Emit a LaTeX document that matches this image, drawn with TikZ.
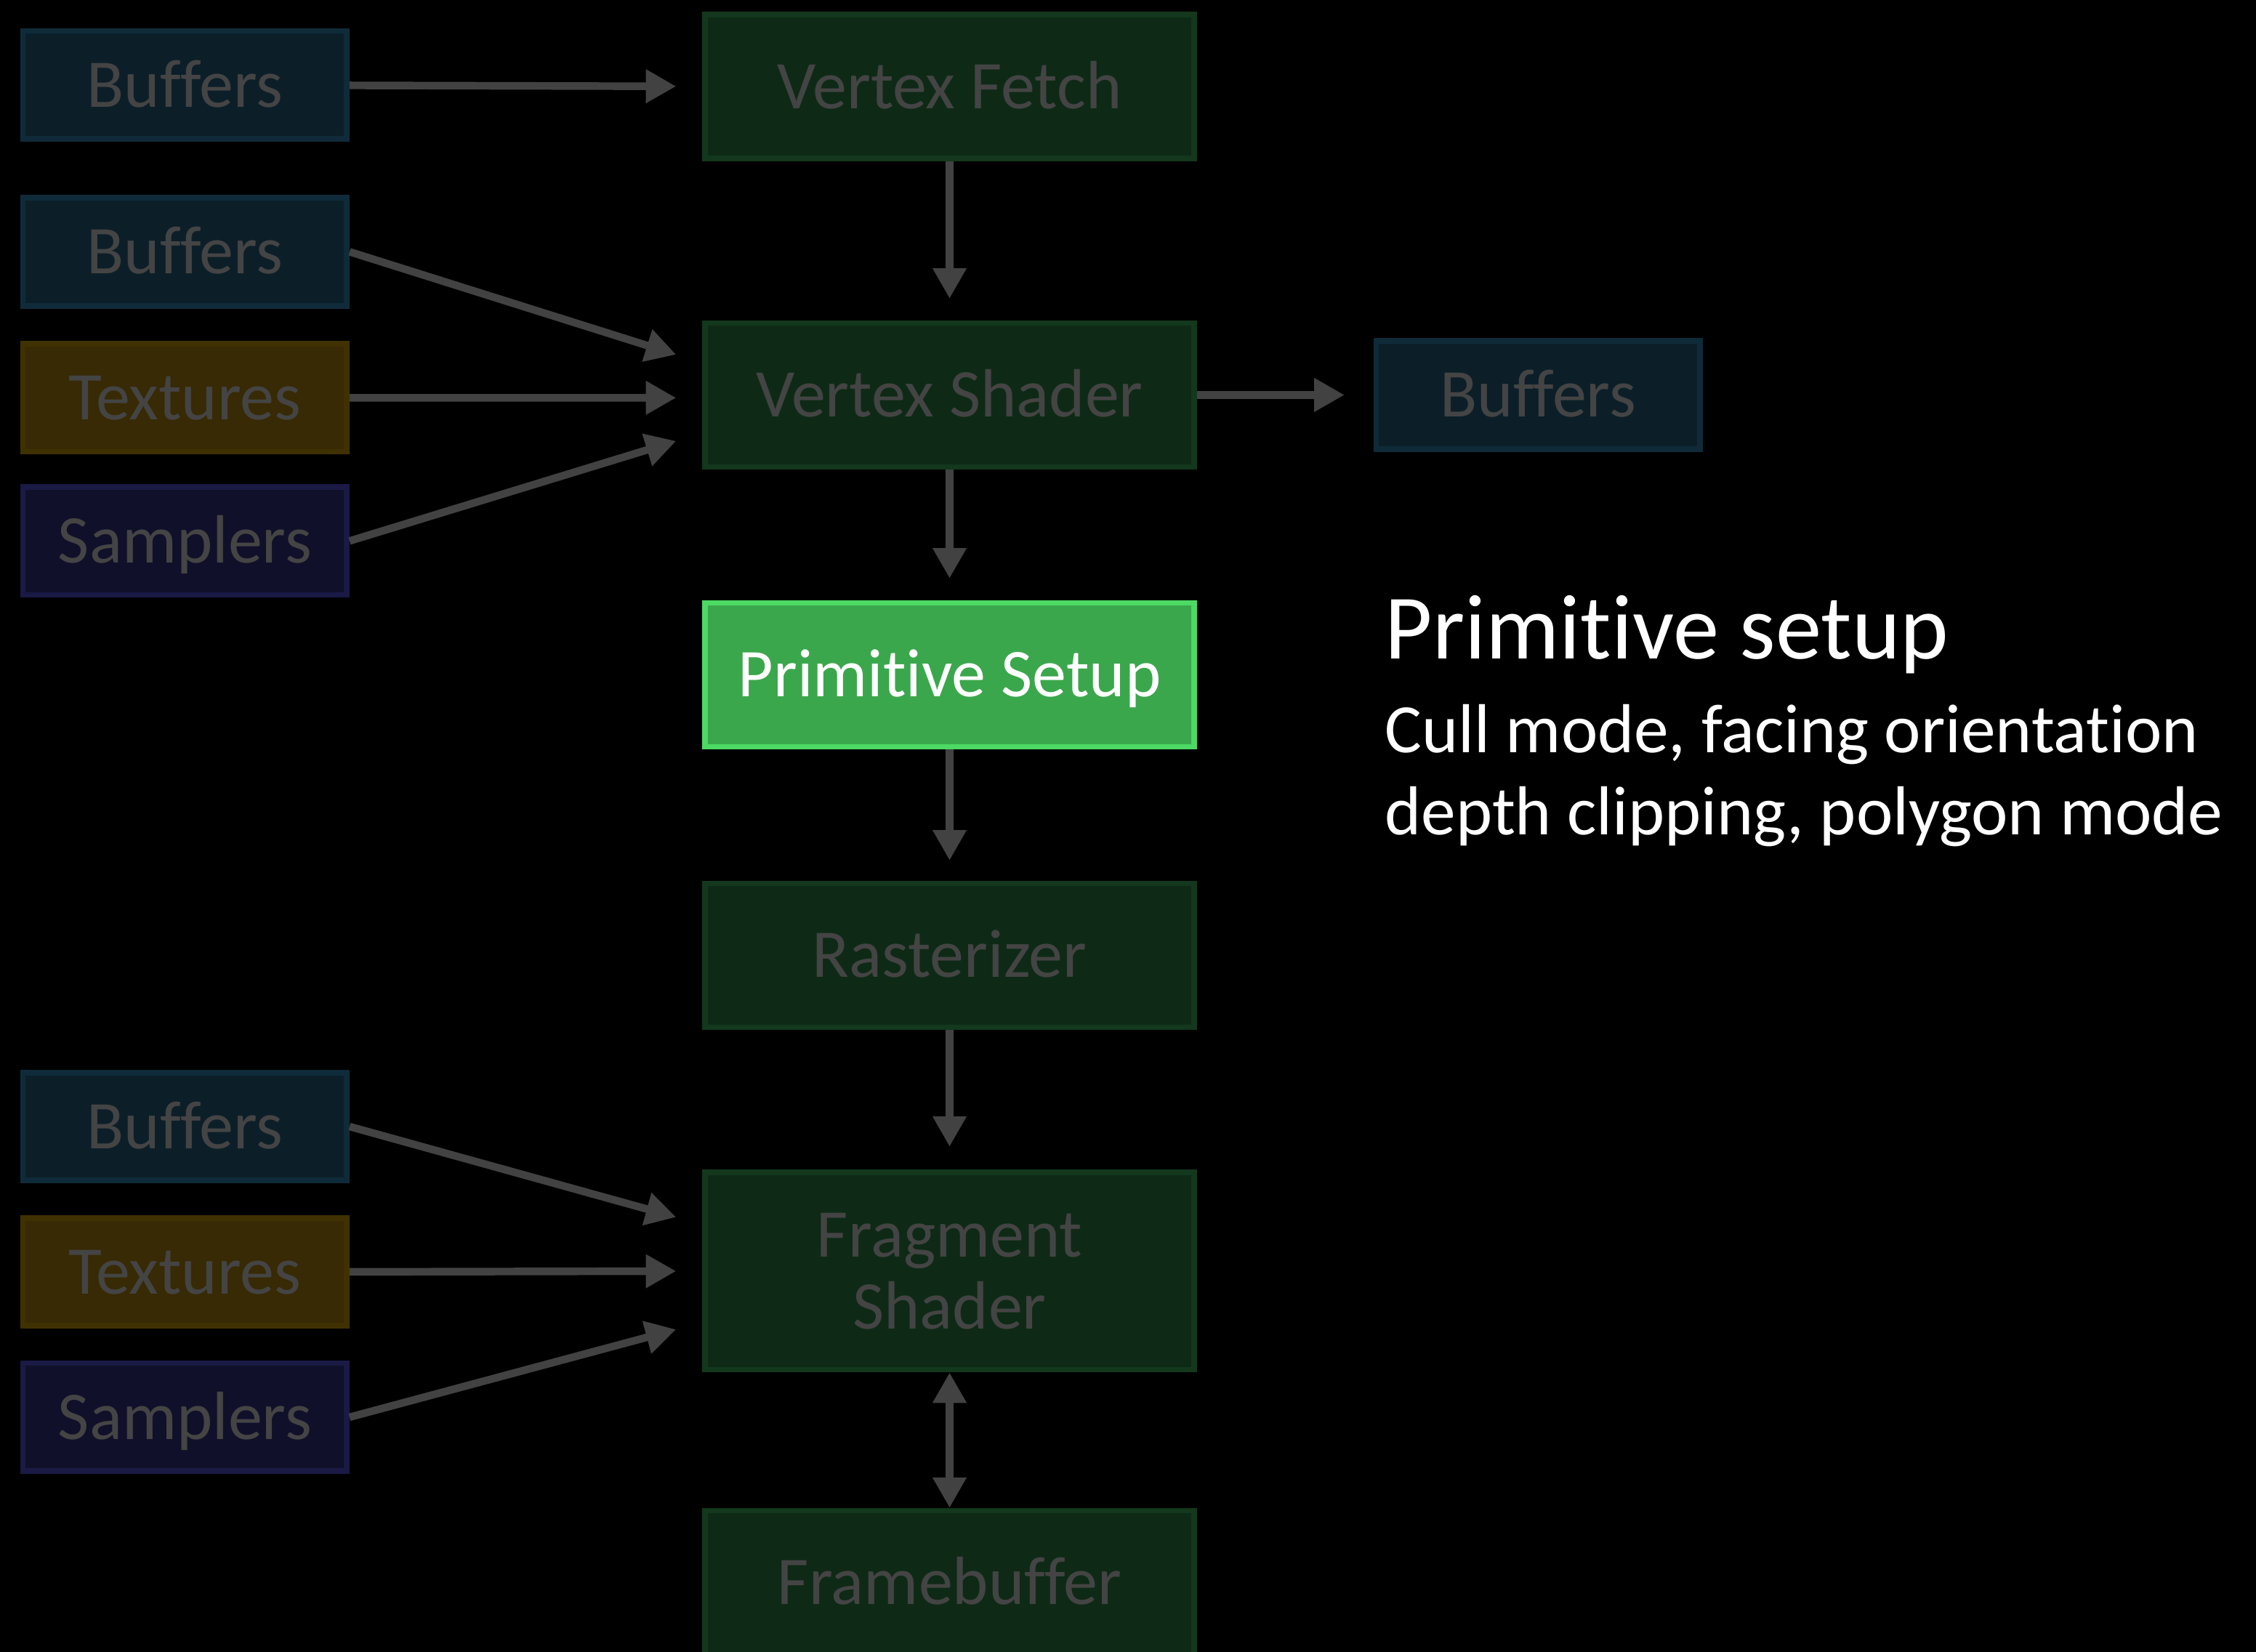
\documentclass[tikz,border=0pt]{standalone}
\usepackage{fontspec}
\setmainfont{Carlito}[Ligatures={NoCommon}]
\usepackage{tikz}
\usetikzlibrary{arrows.meta,positioning}

\definecolor{bufFill}{HTML}{0C1F29}
\definecolor{bufLine}{HTML}{0F2B39}
\definecolor{texFill}{HTML}{372A04}
\definecolor{texLine}{HTML}{3F3200}
\definecolor{smpFill}{HTML}{10102A}
\definecolor{smpLine}{HTML}{1A1A45}
\definecolor{stgFill}{HTML}{0E2A16}
\definecolor{stgLine}{HTML}{13381D}
\definecolor{actFill}{HTML}{3BA74C}
\definecolor{actLine}{HTML}{4CD964}
\definecolor{dimText}{HTML}{444444}
\definecolor{arrGray}{HTML}{424242}

\tikzset{
  res/.style={draw, line width=1.1pt, minimum width=2.25cm, minimum height=0.75cm,
    inner sep=0pt, text=dimText, text height=8.7pt, text depth=0pt,
    font=\fontsize{13.5}{15}\selectfont},
  bufbox/.style={res, fill=bufFill, draw=bufLine},
  texbox/.style={res, fill=texFill, draw=texLine},
  smpbox/.style={res, fill=smpFill, draw=smpLine},
  stage/.style={draw=stgLine, fill=stgFill, line width=1.1pt, minimum width=3.40cm,
    minimum height=1.00cm, inner sep=0pt, align=center, text=dimText,
    font=\fontsize{13.5}{14.2}\selectfont},
  active/.style={stage, fill=actFill, draw=actLine, text=white},
  flow/.style={draw=arrGray, line width=1.5pt, -{Triangle[length=6pt,width=6.3pt]}},
  flowboth/.style={draw=arrGray, line width=1.5pt,
    {Triangle[length=6pt,width=6.3pt]}-{Triangle[length=6pt,width=6.3pt]}},
}

\begin{document}
\begin{tikzpicture}[x=0.01cm,y=-0.01cm]
\fill[black] (0,0) rectangle (1568,1148);
\clip (0,0) rectangle (1568,1148);

% pipeline stages
\node[stage,text height=8.7pt,text depth=0pt] (vfetch) at (660,60) {Vertex Fetch};
\node[stage,text height=8.7pt,text depth=0pt] (vshader) at (660,274.5) {Vertex Shader};
\node[active,text height=8.7pt,text depth=0pt] (prim) at (660,469) {Primitive Setup};
\node[stage,text height=8.7pt,text depth=0pt] (raster) at (660,664) {Rasterizer};
\node[stage,minimum height=1.37cm] (frag) at (660,883.5) {Fragment\\Shader};
\node[stage,text height=8.7pt,text depth=0pt] (fbuf) at (660,1100) {Framebuffer};

% resources
\node[bufbox] (buf1) at (128.5,59) {Buffers};
\node[bufbox] (buf2) at (128.5,175) {Buffers};
\node[texbox] (tex1) at (128.5,276.5) {Textures};
\node[smpbox] (smp1) at (128.5,376) {Samplers};
\node[bufbox] (buf3) at (128.5,783) {Buffers};
\node[texbox] (tex2) at (128.5,884) {Textures};
\node[smpbox] (smp2) at (128.5,985) {Samplers};
\node[bufbox] (bufout) at (1069,274.5) {Buffers};

% connectors
\draw[flow] (buf1) -- ([xshift=-0.18cm]vfetch.west);
\draw[flow] (vfetch) -- ([yshift=0.15cm]vshader.north);
\draw[flow] (buf2.east) -- ([xshift=-0.18cm,yshift=0.28cm]vshader.west);
\draw[flow] (tex1.east) -- ([xshift=-0.18cm,yshift=-0.02cm]vshader.west);
\draw[flow] (smp1.east) -- ([xshift=-0.18cm,yshift=-0.32cm]vshader.west);
\draw[flow] (vshader.east) -- ([xshift=-0.2cm]bufout.west);
\draw[flow] (vshader) -- ([yshift=0.15cm]prim.north);
\draw[flow] (prim) -- ([yshift=0.14cm]raster.north);
\draw[flow] (raster) -- ([yshift=0.16cm]frag.north);
\draw[flow] (buf3.east) -- ([xshift=-0.18cm,yshift=0.375cm]frag.west);
\draw[flow] (tex2.east) -- ([xshift=-0.18cm]frag.west);
\draw[flow] (smp2.east) -- ([xshift=-0.18cm,yshift=-0.405cm]frag.west);
\draw[flowboth] (frag) -- (fbuf);

% description
\node[anchor=base west,inner sep=0pt,text=white,font=\fontsize{18.2}{20}\selectfont]
  (title) at (962,458) {Primitive setup};
\node[anchor=base west,inner sep=0pt,text=white,font=\fontsize{13.7}{15}\selectfont]
  (line1) at (962,523) {Cull mode, facing orientation};
\node[anchor=base west,inner sep=0pt,text=white,font=\fontsize{13.7}{15}\selectfont]
  (line2) at (962,580) {depth clipping, polygon mode};
\end{tikzpicture}
\end{document}
